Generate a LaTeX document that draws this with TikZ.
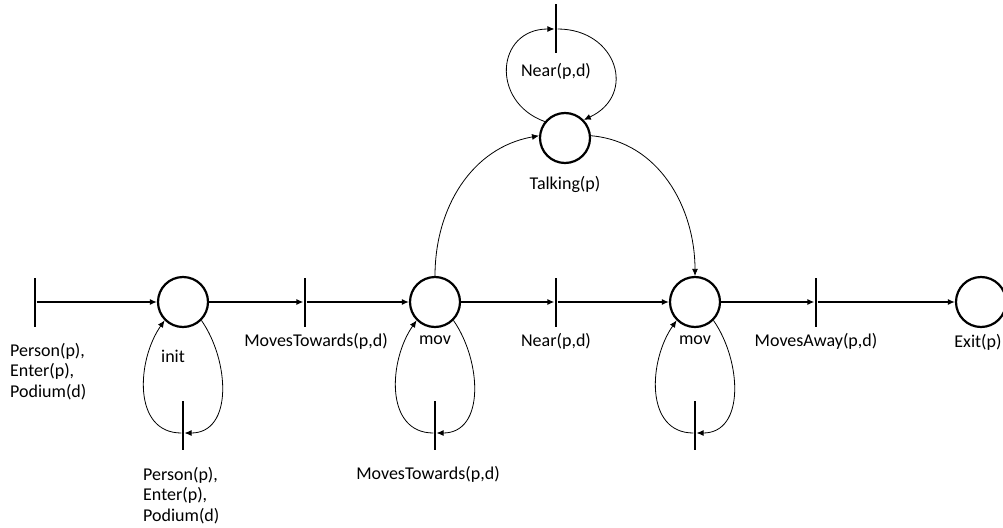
\documentclass[tikz,border=0pt]{standalone}
\usepackage{fontspec}
\setmainfont{Carlito}
\usetikzlibrary{arrows.meta}
\usetikzlibrary{positioning}

\begin{document}
\begin{tikzpicture}[x=1pt, y=1pt, >={Latex[length=7pt,width=6pt]},
  every node/.style={font=\fontsize{18}{20.5}\selectfont},
  place/.style={circle, draw, line width=2.2pt, minimum size=50pt, inner sep=0pt},
  trans/.style={fill=black, minimum width=2.8pt, minimum height=49pt, inner sep=0pt},
  flow/.style={->, line width=1.4pt},
  arc/.style={->, line width=.8pt}]
\useasboundingbox (0,0) rectangle (1003,-527);

% main row
\foreach \n/\x in {t0/35,t1/305,t2/556,t3/816} \node[trans] (\n) at (\x,-302) {};
\foreach \n/\x in {p1/183,p2/435,p3/695,p4/981} \node[place] (\n) at (\x,-302) {};
\foreach \a/\b in {t0/p1,p1/t1,t1/p2,p2/t2,t2/p3,p3/t3,t3/p4} \draw[flow] (\a) -- (\b);

% self loops below
\foreach \p/\b in {p1/b1,p2/b2,p3/b3} {
  \node[trans] (\b) at ([yshift=-123pt]\p) {};
  \draw[arc] (\p.-45) to[out=-55, in=0, looseness=1.1] ([yshift=-8pt]\b.east);
  \draw[arc] ([yshift=-8pt]\b.west) to[out=180, in=-125, looseness=1.1] (\p.-135);
}

% talking
\node[place] (talk) at (565,-138) {};
\node[trans] (tt) at (556,-29) {};
\draw[arc] (p2.north) to[out=90, in=190] (talk.175);
\draw[arc] (talk.5) to[out=-5, in=90] (p3.north);
\draw[arc] (talk.141) to[out=160, in=180, looseness=1.6] (tt.west);
\draw[arc] (tt.east) to[out=0, in=25, looseness=1.6] (talk.44);

% labels
\node[below right=16pt and -25pt of t0.south, align=left, inner sep=0pt] (l0) {Person(p),\\Enter(p),\\Podium(d)};
\node[below=3pt of t1, xshift=11pt] (l1) {MovesTowards(p,d)};
\node[below=3pt of t2] (l2) {Near(p,d)};
\node[below=3pt of t3] (l3) {MovesAway(p,d)};
\node[below=4pt of p2] (lp2) {mov};
\node[below=4pt of p3] (lp3) {mov};
\node[below=3pt of p4, xshift=-3pt] (lp4) {Exit(p)};
\node[below=18pt of p1, xshift=-10pt] (lp1) {init};
\node[below right=17pt and -40pt of b1.south, align=left, inner sep=0pt] (lb1) {Person(p),\\Enter(p),\\Podium(d)};
\node[below=13pt of b2, xshift=-7pt] (lb2) {MovesTowards(p,d)};
\node[below=9pt of talk] (ltalk) {Talking(p)};
\node[below=6pt of tt] (ltt) {Near(p,d)};

\end{tikzpicture}
\end{document}
